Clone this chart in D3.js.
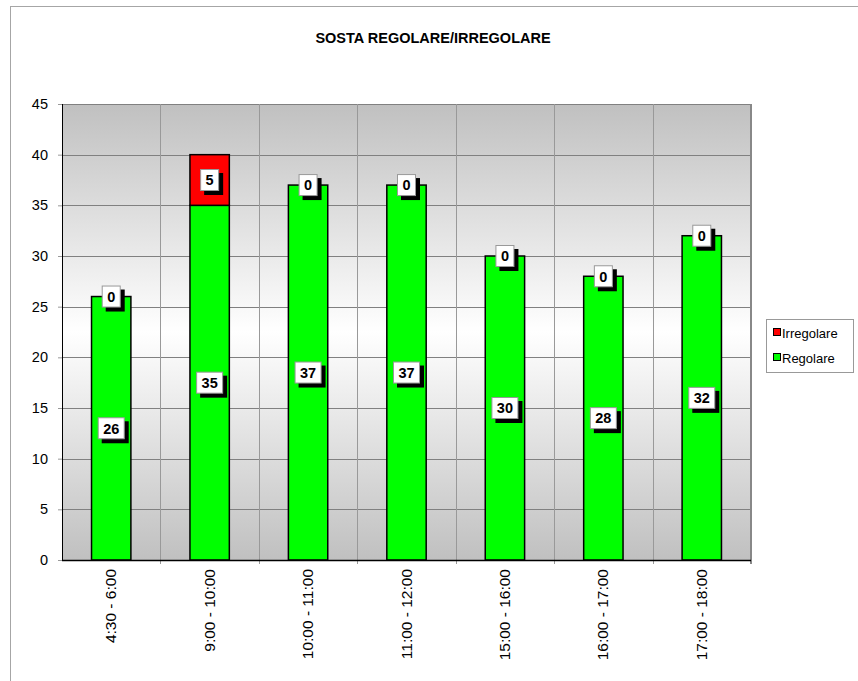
<!DOCTYPE html>
<html>
<head>
<meta charset="utf-8">
<script src="https://cdn.jsdelivr.net/npm/d3@7"></script>
<style>
  body { margin: 0; background: #fff; }
  svg { display: block; font-family: "Liberation Sans", Arial, sans-serif; }
</style>
</head>
<body>
<div id="chart"></div>
<script>
var categories = ['4:30 - 6:00', '9:00 - 10:00', '10:00 - 11:00', '11:00 - 12:00', '15:00 - 16:00', '16:00 - 17:00', '17:00 - 18:00'];
var regolare = [26, 35, 37, 37, 30, 28, 32];
var irregolare = [0, 5, 0, 0, 0, 0, 0];
var yTicks = [0, 5, 10, 15, 20, 25, 30, 35, 40, 45];
var seriesNames = ['Regolare', 'Irregolare'];
var seriesColors = ['#00ff00', '#ff0000'];

var w = 858, h = 681;
var plot = { left: 62, top: 104, right: 751, bottom: 560 };

var svg = d3.select('#chart').append('svg')
    .attr('width', w).attr('height', h);

// outer chart frame
svg.append('rect')
    .attr('x', 10.5).attr('y', 6.5)
    .attr('width', 860).attr('height', 690)
    .attr('fill', '#fff')
    .attr('stroke', '#a6a6a6');

svg.append('text')
    .attr('x', 433).attr('y', 43)
    .attr('text-anchor', 'middle')
    .style('font-size', '14.5px')
    .style('font-weight', 'bold')
    .text('SOSTA REGOLARE/IRREGOLARE');

var grad = svg.append('defs').append('linearGradient')
    .attr('id', 'bg').attr('x1', 0).attr('y1', 0).attr('x2', 0).attr('y2', 1);
grad.append('stop').attr('offset', '0%').attr('stop-color', '#c0c0c0');
grad.append('stop').attr('offset', '50%').attr('stop-color', '#ffffff');
grad.append('stop').attr('offset', '100%').attr('stop-color', '#c0c0c0');

var x = d3.scaleBand()
    .domain(categories)
    .range([plot.left, plot.right])
    .padding(0);

var y = d3.scaleLinear()
    .domain([0, 45])
    .range([plot.bottom, plot.top]);

svg.append('rect')
    .attr('x', plot.left).attr('y', plot.top)
    .attr('width', plot.right - plot.left)
    .attr('height', plot.bottom - plot.top)
    .attr('fill', 'url(#bg)');

// gridlines
svg.append('g').selectAll('line')
    .data(yTicks.slice(1))
    .enter().append('line')
    .attr('x1', plot.left).attr('x2', plot.right)
    .attr('y1', d => Math.round(y(d)) + 0.5).attr('y2', d => Math.round(y(d)) + 0.5)
    .attr('stroke', '#808080');

svg.append('g').selectAll('line')
    .data(categories.slice(1))
    .enter().append('line')
    .attr('x1', d => Math.round(x(d)) + 0.5).attr('x2', d => Math.round(x(d)) + 0.5)
    .attr('y1', plot.top).attr('y2', plot.bottom + 4)
    .attr('stroke', '#999');

// right border of plot area
svg.append('line')
    .attr('x1', plot.right).attr('x2', plot.right)
    .attr('y1', plot.top).attr('y2', plot.bottom + 4)
    .attr('stroke', '#888').attr('stroke-width', 2);

// stacked bars
var rows = categories.map((c, i) => ({ cat: c, Regolare: regolare[i], Irregolare: irregolare[i] }));
var stacked = d3.stack().keys(seriesNames)(rows);
var barW = x.bandwidth() * 0.4;

stacked.forEach(function (layer, li) {
    svg.append('g').selectAll('rect')
        .data(layer.filter(d => d[1] - d[0] > 0))
        .enter().append('rect')
        .attr('x', d => x(d.data.cat) + (x.bandwidth() - barW) / 2)
        .attr('y', d => y(d[1]))
        .attr('width', barW)
        .attr('height', d => y(d[0]) - y(d[1]))
        .attr('fill', seriesColors[li])
        .attr('stroke', '#000')
        .attr('stroke-width', 1.5);
});

// axes
var yAxis = d3.axisLeft(y).tickValues(yTicks).tickSize(4).tickPadding(10);
var gy = svg.append('g').attr('transform', `translate(${plot.left},0)`).call(yAxis);
gy.select('.domain').remove();
gy.selectAll('.tick line').attr('stroke', '#999');
gy.selectAll('.tick text').style('font-size', '14.5px').attr('fill', '#000')
    .style('font-family', '"Liberation Sans", Arial, sans-serif');

svg.append('line')
    .attr('x1', plot.left + 0.5).attr('x2', plot.left + 0.5)
    .attr('y1', plot.top).attr('y2', plot.bottom)
    .attr('stroke', '#000');
svg.append('line')
    .attr('x1', plot.left).attr('x2', plot.right)
    .attr('y1', plot.bottom + 0.5).attr('y2', plot.bottom + 0.5)
    .attr('stroke', '#000').attr('stroke-width', 1.5);

svg.append('g').selectAll('text')
    .data(categories)
    .enter().append('text')
    .attr('transform', d => `translate(${x(d) + x.bandwidth() / 2 + 5},${plot.bottom + 9}) rotate(-90)`)
    .attr('text-anchor', 'end')
    .style('font-size', '15.5px')
    .text(d => d);

// value labels with shadow boxes
stacked.forEach(function (layer) {
    var g = svg.append('g').selectAll('g')
        .data(layer)
        .enter().append('g')
        .attr('transform', d => `translate(${x(d.data.cat) + x.bandwidth() / 2},${y((d[0] + d[1]) / 2)})`);
    g.each(function (d) {
        var val = d[1] - d[0];
        var bw = String(val).length > 1 ? 27 : 19;
        var bh = 22;
        var el = d3.select(this);
        el.append('rect')
            .attr('x', -bw / 2 + 4).attr('y', -bh / 2 + 4)
            .attr('width', bw).attr('height', bh)
            .attr('fill', '#000');
        el.append('rect')
            .attr('x', -bw / 2 + 0.5).attr('y', -bh / 2 + 0.5)
            .attr('width', bw - 1).attr('height', bh - 1)
            .attr('fill', '#fff')
            .attr('stroke', '#999');
        el.append('text')
            .attr('text-anchor', 'middle')
            .attr('dy', '0.36em')
            .style('font-size', '14.5px')
            .style('font-weight', 'bold')
            .text(val);
    });
});

// legend
var legend = svg.append('g').attr('transform', 'translate(766,319)');
legend.append('rect')
    .attr('x', 0.5).attr('y', 0.5).attr('width', 87).attr('height', 53)
    .attr('fill', '#fff').attr('stroke', '#999');
var items = seriesNames.slice().reverse();
var itemColors = seriesColors.slice().reverse();
items.forEach(function (name, i) {
    var gy2 = 14 + i * 25;
    legend.append('rect')
        .attr('x', 7.5).attr('y', gy2 - 4.5).attr('width', 7).attr('height', 7)
        .attr('fill', itemColors[i]).attr('stroke', '#000');
    legend.append('text')
        .attr('x', 16).attr('y', gy2).attr('dy', '0.36em')
        .style('font-size', '13px')
        .text(name);
});
</script>
</body>
</html>
